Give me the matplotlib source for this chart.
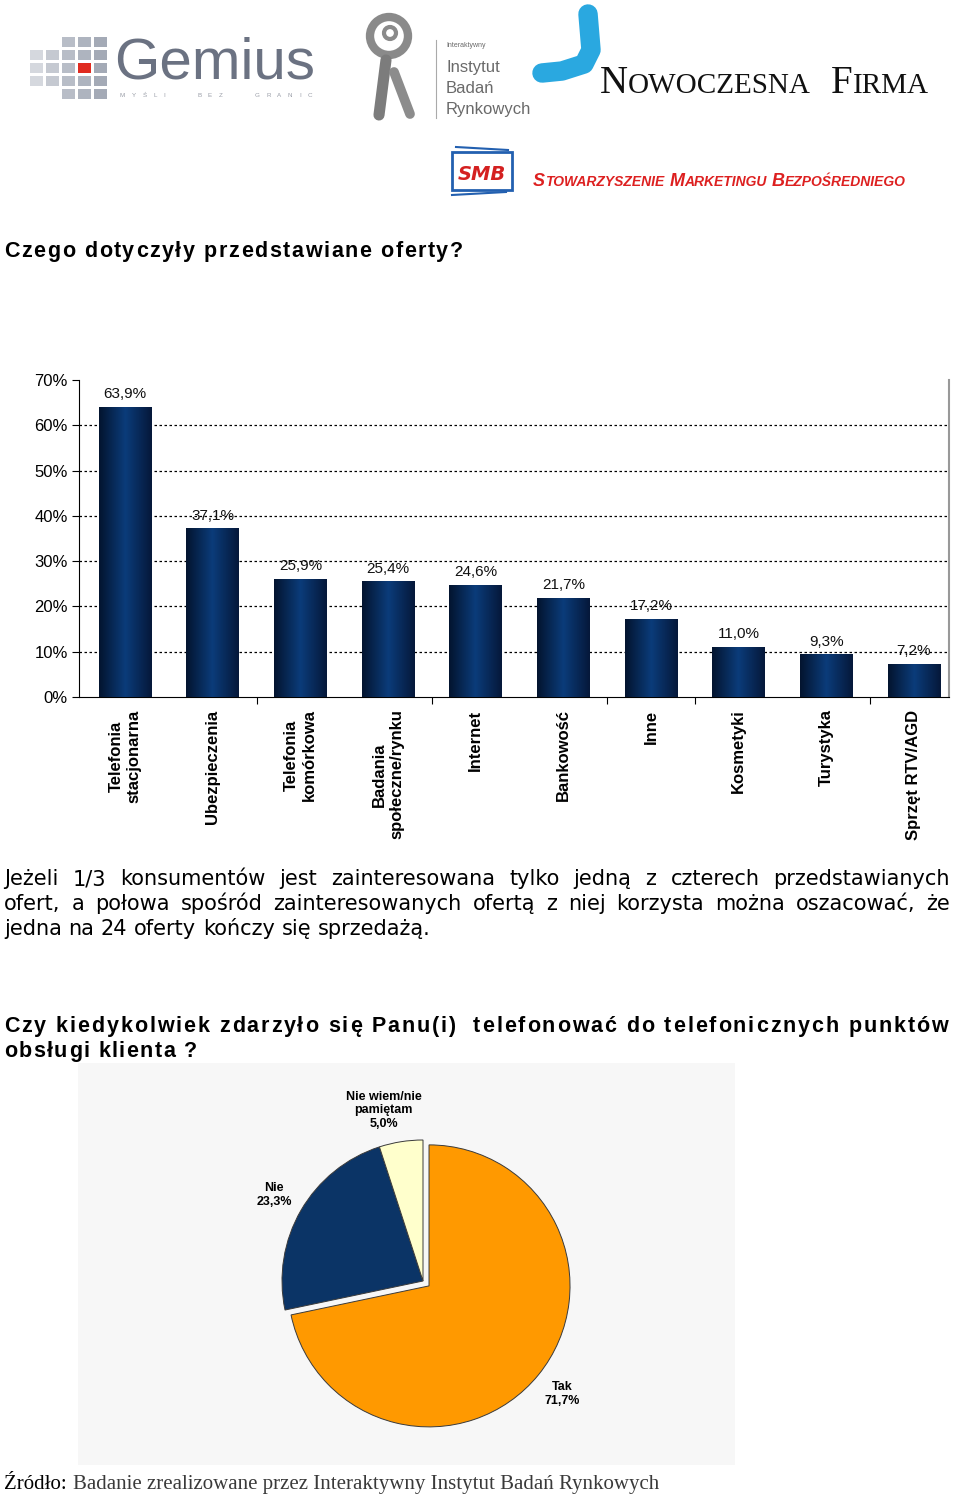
import numpy as np
import matplotlib
matplotlib.use("Agg")
import matplotlib.pyplot as plt
from matplotlib.colors import LinearSegmentedColormap
from matplotlib.patches import Rectangle, Circle

# dane - wykres slupkowy
categories = ["Telefonia\nstacjonarna", "Ubezpieczenia", "Telefonia\nkomórkowa",
              "Badania\nspołeczne/rynku", "Internet", "Bankowość", "Inne",
              "Kosmetyki", "Turystyka", "Sprzęt RTV/AGD"]
values = [63.9, 37.1, 25.9, 25.4, 24.6, 21.7, 17.2, 11.0, 9.3, 7.2]
value_labels = ["63,9%", "37,1%", "25,9%", "25,4%", "24,6%",
                "21,7%", "17,2%", "11,0%", "9,3%", "7,2%"]
y_ticks = [0, 10, 20, 30, 40, 50, 60, 70]
y_tick_labels = ["0%", "10%", "20%", "30%", "40%", "50%", "60%", "70%"]

# dane - wykres kolowy
pie_labels = ["Tak", "Nie", "Nie wiem/nie\npamiętam"]
pie_values = [71.7, 23.3, 5.0]
pie_value_labels = ["71,7%", "23,3%", "5,0%"]
pie_colors = ["#ff9900", "#0b3466", "#ffffcc"]

title_1 = "Czego dotyczyły przedstawiane oferty?"
paragraph = ["Jeżeli 1/3 konsumentów jest zainteresowana tylko jedną z czterech przedstawianych",
             "ofert, a połowa spośród zainteresowanych ofertą z niej korzysta można oszacować, że",
             "jedna na 24 oferty kończy się sprzedażą."]
title_2 = ["Czy kiedykolwiek zdarzyło się Panu(i)  telefonować do telefonicznych punktów",
           "obsługi klienta ?"]
source_1 = "Źródło:"
source_2 = "Badanie zrealizowane przez Interaktywny Instytut Badań Rynkowych"

W, H = 960, 1496


def text_width(ax, s, r, **kw):
    t = ax.text(0, 0, s, **kw)
    w = t.get_window_extent(r).width
    t.remove()
    return w


def spaced(ax, x, y, s, width, r, **kw):
    # tekst z rozstrzelonymi literami
    base = text_width(ax, "HH", r, **kw)
    adv = {c: text_width(ax, "H" + c + "H", r, **kw) - base for c in set(s)}
    gap = (width - sum(adv[c] for c in s)) / (len(s) - 1)
    for c in s:
        if c != " ":
            ax.text(x, y, c, va="baseline", **kw)
        x += adv[c] + gap


def justified(ax, x, y, line, width, r, last=False, **kw):
    words = line.split()
    ws = [text_width(ax, w, r, **kw) for w in words]
    if last:
        gap = text_width(ax, "a a", r, **kw) - text_width(ax, "aa", r, **kw)
    else:
        gap = (width - sum(ws)) / (len(words) - 1)
    for w, ww in zip(words, ws):
        ax.text(x, y, w, va="baseline", **kw)
        x += ww + gap


def runs(ax, x, y, parts, r, **kw):
    for s, size in parts:
        if s is None:
            x += size
            continue
        t = ax.text(x, y, s, fontsize=size, va="baseline", **kw)
        x += t.get_window_extent(r).width


def main():
    fig = plt.figure(figsize=(9.6, 14.96), dpi=100)
    r = fig.canvas.get_renderer()

    page = fig.add_axes([0, 0, 1, 1])
    page.set_xlim(0, W)
    page.set_ylim(H, 0)
    page.axis("off")

    # logo Gemius
    cols = [30, 46, 62, 78, 94]
    rows = [37, 50, 63, 76, 89]
    shades = ["#d5d8de", "#c5c9d1", "#b8bdc7", "#aeb4bf", "#a4aab6"]
    for i, cx in enumerate(cols):
        for j, cy in enumerate(rows):
            if i < 2 and j in (0, 4):
                continue
            fc = "#e02b20" if (i == 3 and j == 2) else shades[i]
            page.add_patch(Rectangle((cx, cy), 13, 10, fc=fc, ec="none"))
    page.text(114, 78, "Gemius", fontsize=42, color="#6b7282", va="baseline",
              family="Liberation Sans")
    spaced(page, 120, 97, "MYŚLI   BEZ   GRANIC", 192, r, fontsize=4.5, color="#9a9ea8",
           family="Liberation Sans")

    # logo Instytut
    page.add_patch(Circle((389, 36), 19, fc="none", ec="#8a8a8a", lw=6))
    page.add_patch(Circle((390, 33), 6, fc="none", ec="#8a8a8a", lw=3))
    page.plot([386, 379], [60, 115], color="#7c7c7c", lw=8, solid_capstyle="round")
    page.plot([394, 410], [72, 114], color="#8c8c8c", lw=7, solid_capstyle="round")
    page.plot([436, 436], [40, 118], color="#aaaaaa", lw=0.8)
    nar = dict(family="Liberation Sans", color="#6a6a6a")
    page.text(446, 47, "Interaktywny", fontsize=5, va="baseline", **nar)
    page.text(446, 72, "Instytut", fontsize=12, va="baseline", **nar)
    page.text(446, 93, "Badań", fontsize=12, va="baseline", **nar)
    page.text(446, 114, "Rynkowych", fontsize=12, va="baseline", **nar)

    # logo Nowoczesna Firma
    page.plot([588, 591, 584, 562, 542], [14, 50, 64, 71, 73], color="#2aa8e0",
              lw=14, solid_capstyle="round", solid_joinstyle="round")
    runs(page, 600, 93, [("N", 28), ("OWOCZESNA", 21), (None, 20), ("F", 28), ("IRMA", 21)], r,
         family="Liberation Serif", color="#111111")

    # logo SMB
    page.add_patch(Rectangle((452, 152), 60, 38, fc="none", ec="#2360b0", lw=2))
    page.plot([456, 508], [147, 150], color="#2360b0", lw=1.5)
    page.plot([452, 506], [195, 192], color="#2360b0", lw=1.5)
    page.text(482, 174, "SMB", fontsize=14, color="#d42020", ha="center", va="center",
              fontweight="bold", style="italic")
    runs(page, 533, 186, [("S", 13), ("TOWARZYSZENIE", 10), (None, 5), ("M", 13), ("ARKETINGU", 10),
                          (None, 5), ("B", 13), ("EZPOŚREDNIEGO", 10)], r,
         family="Liberation Sans", color="#dd2020", fontweight="bold", style="italic")

    # naglowki i tekst
    hd = dict(fontsize=15.5, fontweight="bold", family="Liberation Sans", color="black")
    spaced(page, 4, 257, title_1, 459, r, **hd)

    par = dict(fontsize=15, family="DejaVu Sans", color="black")
    for k, line in enumerate(paragraph):
        justified(page, 4, 885 + 25 * k, line, 946, r, last=(k == len(paragraph) - 1), **par)

    spaced(page, 4, 1032, title_2[0], 944, r, **hd)
    spaced(page, 4, 1057, title_2[1], 193, r, **hd)

    # tlo wykresu kolowego
    page.add_patch(Rectangle((78, 1063), 657, 402, fc="#f7f7f7", ec="none"))

    sw = text_width(page, source_1, r, fontsize=15, family="Liberation Serif")
    page.text(4, 1489, source_1, fontsize=15, family="Liberation Serif", color="black",
              va="baseline")
    page.text(4 + sw + 6, 1489, source_2, fontsize=15, family="Liberation Serif",
              color="#3a3a3a", va="baseline")

    # wykres slupkowy
    ax = fig.add_axes([79 / W, 1 - 697 / H, 870 / W, 317 / H])
    x = np.arange(len(values))
    bars = ax.bar(x, values, width=0.6, color="#0b3a75", zorder=2)
    cm = LinearSegmentedColormap.from_list("slupek", ["#03142f", "#0b3c7a", "#05183a"])
    for b in bars:
        ax.imshow(np.linspace(0, 1, 100)[None, :], cmap=cm, aspect="auto", zorder=3,
                  extent=[b.get_x(), b.get_x() + b.get_width(), 0, b.get_height()],
                  clip_path=b, clip_on=True)
    for b, lab in zip(bars, value_labels):
        ax.text(b.get_x() + b.get_width() / 2, b.get_height() + 1.4, lab, ha="center",
                va="bottom", fontsize=11, family="Liberation Sans", color="#111111")

    ax.set_xlim(-0.525, 9.4)
    ax.set_ylim(0, 70)
    ax.set_yticks(y_ticks, y_tick_labels, fontsize=12, family="Liberation Sans")
    ax.set_xticks(x, categories, rotation=90, ha="center", va="top", fontsize=12,
                  fontweight="bold", family="Liberation Sans", linespacing=1.25,
                  multialignment="center")
    ax.set_xticks([1.5, 3.5, 5.5, 6.5, 8.5], minor=True)
    ax.tick_params(axis="x", which="major", length=0, pad=9)
    ax.tick_params(axis="x", which="minor", length=5, width=0.8, direction="out")
    ax.tick_params(axis="y", length=5, width=0.8, pad=3)
    ax.grid(axis="y", color="black", linestyle=(0, (2, 2)), linewidth=0.9)
    gl = ax.get_ygridlines()
    gl[0].set_visible(False)
    gl[-1].set_visible(False)
    ax.set_axisbelow(True)
    ax.spines["top"].set_visible(False)
    ax.spines["right"].set_color("#999999")
    ax.spines["right"].set_linewidth(1.5)
    ax.patch.set_alpha(0)

    # wykres kolowy
    R = 141
    cx, cy = 423, 1281
    pax = fig.add_axes([(cx - 1.5 * R) / W, 1 - (cy + 1.5 * R) / H, 3 * R / W, 3 * R / H])
    labels = [a + "\n" + b for a, b in zip(pie_labels, pie_value_labels)]
    wedges, texts = pax.pie(pie_values, labels=labels, colors=pie_colors, startangle=90,
                            counterclock=False, explode=[0.055, 0, 0], labeldistance=1.22,
                            wedgeprops=dict(edgecolor="#3a3a3a", linewidth=0.7),
                            textprops=dict(fontsize=9, fontweight="bold",
                                           family="Liberation Sans"))
    for t in texts:
        t.set_horizontalalignment("center")
        t.set_verticalalignment("center")
        t.set_multialignment("center")
    texts[2].set_position((-0.28, 1.21))
    pax.set_xlim(-1.5, 1.5)
    pax.set_ylim(-1.5, 1.5)
    pax.set_aspect("equal")
    pax.axis("off")

    fig.savefig("out.png", dpi=100)


if __name__ == "__main__":
    main()
